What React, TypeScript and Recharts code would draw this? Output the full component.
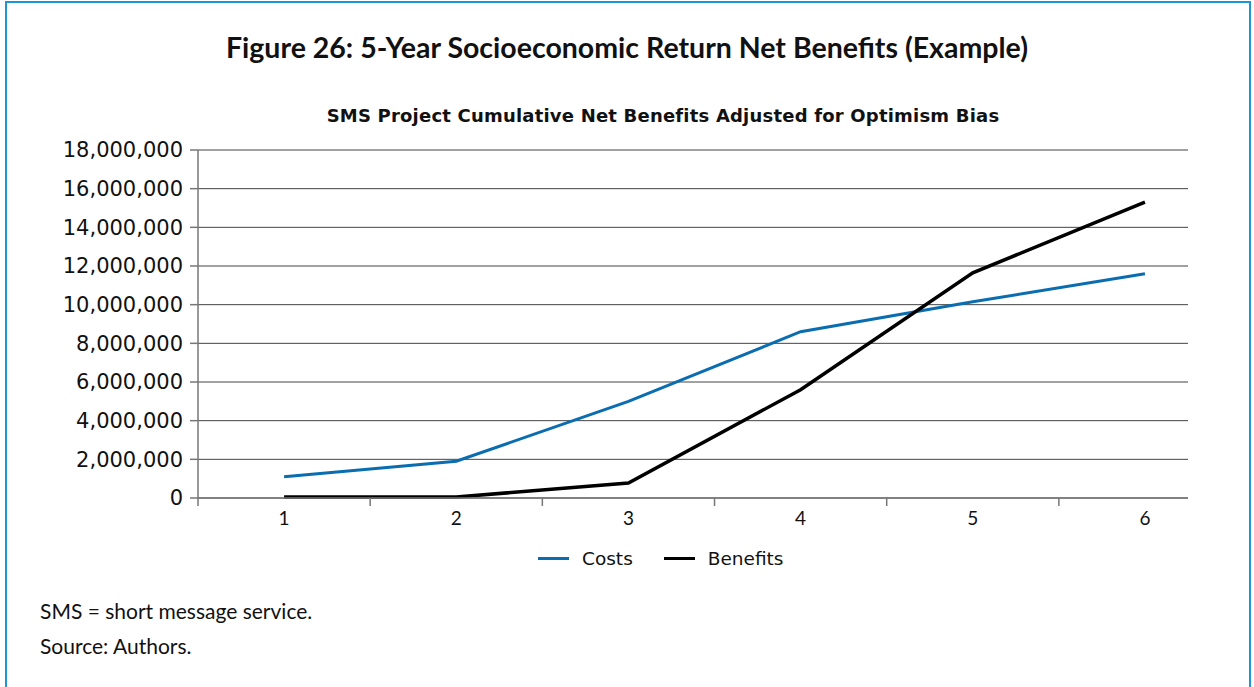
import React from 'react';
import { LineChart, Line, XAxis, YAxis, CartesianGrid, Legend } from 'recharts';

const FONT = 'Lato, "Open Sans", sans-serif';
const WIDE = '"DejaVu Sans", Lato, sans-serif';

const years = [1, 2, 3, 4, 5, 6];
const costs = [1100000, 1900000, 5000000, 8600000, 10150000, 11600000];
const benefits = [50000, 50000, 780000, 5600000, 11650000, 15300000];
const yTicks = [0, 2000000, 4000000, 6000000, 8000000, 10000000, 12000000, 14000000, 16000000, 18000000];
const xTicks = [0.5, 1, 1.5, 2, 2.5, 3, 3.5, 4, 4.5, 5, 5.5, 6];
const seriesNames = ['Costs', 'Benefits'];
const seriesColors = ['#0a6db0', '#000000'];

const title = 'Figure 26: 5-Year Socioeconomic Return Net Benefits (Example)';
const subtitle = 'SMS Project Cumulative Net Benefits Adjusted for Optimism Bias';
const notes = ['SMS = short message service.', 'Source: Authors.'];

const data = years.map((y, i) => ({ year: y, costs: costs[i], benefits: benefits[i] }));

const XTick = (props: any) => {
  const { x, y, payload } = props;
  const v = payload.value;
  if (Number.isInteger(v)) {
    return (
      <text x={x} y={y + 27} textAnchor="middle" fontSize={19} fill="#111" fontFamily={FONT}>
        {v}
      </text>
    );
  }
  return <line x1={x} x2={x} y1={y} y2={y + 8} stroke="#777" strokeWidth={1.5} />;
};

const LegendContent = () => (
  <div style={{ display: 'flex', alignItems: 'center', height: 40, paddingLeft: 538, fontFamily: WIDE, fontSize: 18.5, color: '#111' }}>
    {seriesNames.map((n, i) => (
      <div key={n} style={{ display: 'flex', alignItems: 'center', marginRight: 31 }}>
        <div style={{ width: 31, height: 3, background: seriesColors[i], marginRight: 13 }} />
        <span>{n}</span>
      </div>
    ))}
  </div>
);

export default function App() {
  return (
    <div style={{ position: 'absolute', left: 0, top: 0, width: 1254, height: 687, overflow: 'hidden', background: '#fff' }}>
      <div style={{ position: 'absolute', left: 5, top: 1, width: 1246, height: 720, border: '2px solid #1e96d2', boxSizing: 'border-box' }} />
      <div style={{ position: 'absolute', left: 0, top: 30, width: 1254, textAlign: 'center', fontFamily: FONT, fontWeight: 700, fontSize: 28.5, color: '#111' }}>
        {title}
      </div>
      <div style={{ position: 'absolute', left: 36, top: 105, width: 1254, textAlign: 'center', fontFamily: WIDE, fontWeight: 700, fontSize: 18, letterSpacing: 0.2, color: '#111' }}>
        {subtitle}
      </div>
      <div style={{ position: 'absolute', left: 0, top: 0 }}>
        <LineChart width={1254} height={600} data={data} margin={{ top: 150, right: 66, bottom: 22, left: 0 }}>
          <CartesianGrid vertical={false} stroke="#444" strokeWidth={1} />
          <XAxis
            dataKey="year"
            type="number"
            domain={[0.5, 6.25]}
            ticks={xTicks}
            interval={0}
            allowDataOverflow
            tickLine={false}
            tickSize={0}
            tickMargin={0}
            height={40}
            axisLine={{ stroke: '#777', strokeWidth: 1.5 }}
            tick={<XTick />}
          />
          <YAxis
            width={198}
            domain={[0, 18000000]}
            ticks={yTicks}
            interval={0}
            tickSize={8}
            tickMargin={7}
            tickFormatter={(v: number) => v.toLocaleString('en-US')}
            tick={{ fontSize: 21, fill: '#111', fontFamily: WIDE }}
            tickLine={{ stroke: '#777', strokeWidth: 1.5 }}
            axisLine={{ stroke: '#777', strokeWidth: 1.5 }}
          />
          <Legend verticalAlign="bottom" height={40} wrapperStyle={{ left: 0, width: 1254 }} content={<LegendContent />} />
          <Line type="linear" dataKey="costs" name={seriesNames[0]} stroke={seriesColors[0]} strokeWidth={3} dot={false} isAnimationActive={false} />
          <Line type="linear" dataKey="benefits" name={seriesNames[1]} stroke={seriesColors[1]} strokeWidth={3.5} dot={false} isAnimationActive={false} />
        </LineChart>
      </div>
      <div style={{ position: 'absolute', left: 40, top: 598, fontFamily: FONT, fontSize: 21, color: '#111' }}>{notes[0]}</div>
      <div style={{ position: 'absolute', left: 40, top: 633, fontFamily: FONT, fontSize: 21, color: '#111' }}>{notes[1]}</div>
    </div>
  );
}
